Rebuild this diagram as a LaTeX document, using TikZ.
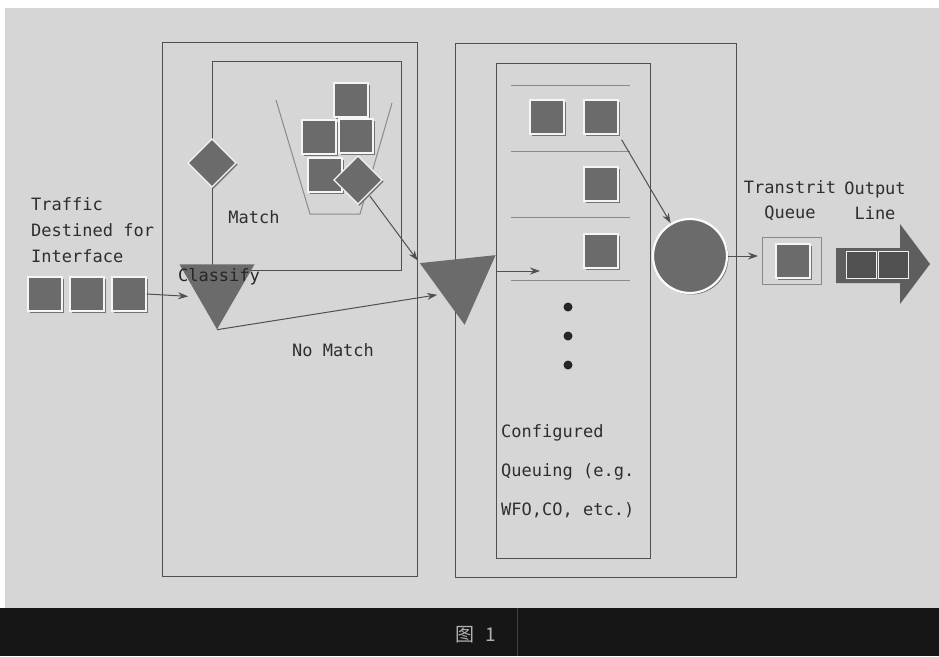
\documentclass[tikz,border=0pt]{standalone}
\usepackage{fontspec}
\setmainfont{DejaVu Sans}
\newfontfamily\labelfont{DejaVu Sans Mono}
\newfontfamily\cjk{Noto Sans CJK SC}
\usetikzlibrary{arrows.meta,shapes.geometric,shadows}
\definecolor{paper}{HTML}{D6D6D6}
\definecolor{band}{HTML}{161616}
\definecolor{pktfill}{HTML}{6B6B6B}
\definecolor{pipefill}{HTML}{5E5E5E}
\definecolor{rule}{HTML}{505050}
\definecolor{soft}{HTML}{8A8A8A}
\definecolor{ink}{HTML}{2E2E2E}
\tikzset{
  pkt/.style={draw=white!75!paper, line width=1.2pt, fill=pktfill, minimum size=34pt,
    inner sep=0pt, general shadow={fill=black!55, shadow xshift=1.5pt, shadow yshift=-1.5pt}},
  outpkt/.style={draw=white!60!paper, line width=1pt, fill=pipefill!85!black,
    minimum width=30pt, minimum height=27pt, inner sep=0pt},
  tri/.style={regular polygon, regular polygon sides=3, fill=pktfill, inner sep=0pt},
  frame/.style={draw=rule, line width=1pt},
  thin/.style={draw=soft, line width=1pt},
  arr/.style={-{Stealth[length=10pt,width=7pt]}, line width=1pt, draw=rule},
  lbl/.style={font=\labelfont\fontsize{17}{26}\selectfont, text=ink, inner sep=0pt}
}

\begin{document}
\begin{tikzpicture}[x=1pt,y=-1pt]
  \useasboundingbox (0,0) rectangle (939,656);
  \fill[white] (0,0) rectangle (939,656);
  \fill[paper] (5,8) rectangle (939,608);
  \fill[band] (0,608) rectangle (939,656);
  \draw[black!75, line width=1pt] (517,608) -- (517,656);
  \node[font=\cjk\fontsize{19}{19}\selectfont, text=black!30] (fig) at (476,635) {图\hspace{0.6em}1};

  % frames
  \draw[frame] (162,42) rectangle (417,576);
  \draw[frame] (212,61) rectangle (401,270);
  \draw[frame] (455,43) rectangle (736,577);
  \draw[frame] (496,63) rectangle (650,558);
  \draw[thin] (276,100) -- (310,214) -- (360,214) -- (392,103);
  \foreach \y in {85,151,217,280}
    \draw[thin] (511,\y) -- (630,\y);
  \foreach \y in {307,336,365}
    \fill[black!85] (568,\y) circle (4.5pt);

  % incoming packets
  \node[pkt] (p1) at (45,294) {};
  \node[pkt] (p2) at (87,294) {};
  \node[pkt] (p3) at (129,294) {};

  % match filter and bucket
  \node[pkt, rotate=45] (mdia) at (212,163) {};
  \node[pkt] (b1) at (351,100) {};
  \node[pkt] (b2) at (319,137) {};
  \node[pkt] (b3) at (356,136) {};
  \node[pkt] (b4) at (325,175) {};
  \node[pkt, rotate=45] (bdia) at (358,180) {};

  \node[tri, shape border rotate=180, minimum size=86.6pt] (classify) at (217,286) {};
  \node[tri, shape border rotate=186, minimum size=88pt] (sorter) at (460,281) {};

  % queues
  \node[pkt] (q11) at (547,117) {};
  \node[pkt] (q12) at (601,117) {};
  \node[pkt] (q2) at (601,184) {};
  \node[pkt] (q3) at (601,251) {};

  \node[circle, fill=pktfill, draw=white!90!paper, line width=2.2pt, minimum size=74pt,
    general shadow={fill=black!55, shadow xshift=1.5pt, shadow yshift=-1.5pt}] (sched) at (690,256) {};

  \node[draw=soft, line width=1pt, minimum width=59pt, minimum height=47pt] (tqbox) at (792,261) {};
  \node[pkt] (tq) at (793,261) {};

  \fill[pipefill] (836,248) -- (900,248) -- (900,224) -- (930,264) -- (900,304)
    -- (900,283) -- (836,283) -- cycle;
  \node[outpkt] (o1) at (861,265) {};
  \node[outpkt] (o2) at (893,265) {};

  % connectors
  \draw[arr, shorten >=10pt] (p3.east) -- (classify.side 3);
  \draw[arr, shorten >=5pt] (classify.corner 1) -- (sorter.side 3);
  \draw[arr, shorten <=2pt, shorten >=3pt] (bdia) -- (sorter.corner 3);
  \coordinate (qin) at (540,271);
  \draw[arr] (sorter.corner 2 |- qin) -- (qin);
  \draw[arr, shorten <=6pt] (q12.south east) -- (sched);
  \draw[arr, shorten >=4pt] (sched.east) -- (sched.east -| tqbox.west);

  % labels
  \node[lbl, align=left, anchor=north west] (traffic) at (31,197) {Traffic\\Destined for\\Interface};
  \node[lbl] (match) at (254,217) {Match};
  \node[lbl, text=black!85] (classlbl) at (219,277) {Classify};
  \node[lbl] (nomatch) at (333,350) {No Match};
  \node[lbl, align=left, anchor=north west, font=\labelfont\fontsize{17}{39}\selectfont] (config) at (501,424)
    {Configured\\Queuing (e.g.\\WFO,CO, etc.)};
  \node[lbl, align=center, font=\labelfont\fontsize{17}{25}\selectfont] (tqlbl) at (790,201) {Transtrit\\Queue};
  \node[lbl, align=center, font=\labelfont\fontsize{17}{25}\selectfont] (outlbl) at (875,201) {Output\\Line};
\end{tikzpicture}
\end{document}
